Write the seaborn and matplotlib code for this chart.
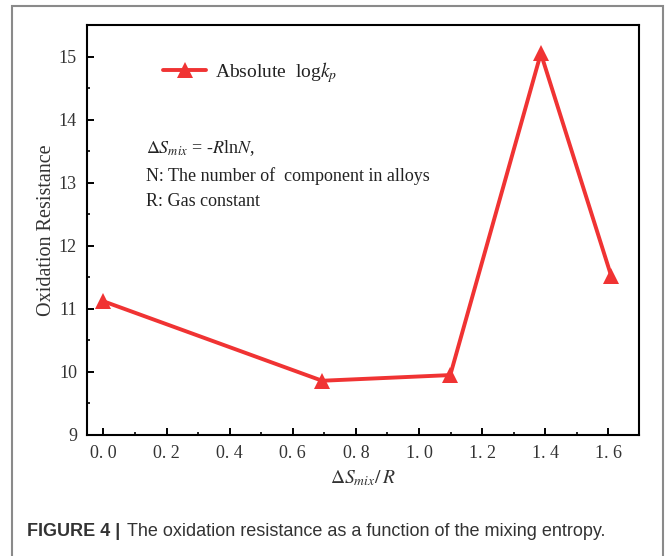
import matplotlib
matplotlib.use("Agg")
import matplotlib.pyplot as plt
import seaborn as sns
import pandas as pd
from matplotlib.patches import Rectangle

# Data
mixing_entropy = [0.0, 0.693, 1.099, 1.386, 1.609]
oxidation_resistance = [11.12, 9.86, 9.95, 15.05, 11.52]
series_label = r'Absolute  log$k_p$'
xtick_values = [0.0, 0.2, 0.4, 0.6, 0.8, 1.0, 1.2, 1.4, 1.6]
xtick_labels = ['0. 0', '0. 2', '0. 4', '0. 6', '0. 8', '1. 0', '1. 2', '1. 4', '1. 6']
ytick_values = [9, 10, 11, 12, 13, 14, 15]
notes = [r'$\Delta S_{mix}$ = -$R$ln$N$,',
         'N: The number of  component in alloys',
         'R: Gas constant']

sns.set_theme(style='ticks')
plt.rcParams['font.family'] = ['Liberation Serif', 'DejaVu Serif']
plt.rcParams['mathtext.fontset'] = 'stix'

W, H = 667, 556
fig = plt.figure(figsize=(W / 100, H / 100), dpi=100)
ax = fig.add_axes([86.7 / W, 1 - 435 / H, (639 - 86.7) / W, (435 - 25) / H])

df = pd.DataFrame({'x': mixing_entropy, 'y': oxidation_resistance})
red = '#F03333'
sns.lineplot(data=df, x='x', y='y', ax=ax, color=red, lw=2.8, marker='^',
             markersize=11, markeredgewidth=0, label=series_label, sort=False)

ax.set_xlim(-0.053, 1.697)
ax.set_ylim(9, 15.5)
ax.set_xticks(xtick_values)
ax.set_xticklabels(xtick_labels)
ax.set_yticks(ytick_values)
ax.set_xticks([0.1, 0.3, 0.5, 0.7, 0.9, 1.1, 1.3, 1.5], minor=True)
ax.set_yticks([9.5, 10.5, 11.5, 12.5, 13.5, 14.5], minor=True)
ax.tick_params(axis='both', which='major', direction='in', length=5, width=1.4,
               labelsize=13, pad=7, colors='black', labelcolor='#333333')
ax.tick_params(axis='both', which='minor', direction='in', length=2.5, width=1.4)
for s in ax.spines.values():
    s.set_linewidth(1.5)
    s.set_color('black')

ax.set_ylabel('Oxidation Resistance', fontsize=14.5, color='#333333', labelpad=2)
ax.set_xlabel(r'$\Delta S_{mix}/\,R$', fontsize=14, color='#333333', labelpad=5)

leg = ax.legend(loc='center left', bbox_to_anchor=(0.107, 0.885), frameon=False,
                fontsize=14, handlelength=2.2, handletextpad=0.45)
for t in leg.get_texts():
    t.set_color('#222222')

ys = [148, 176, 201]
for txt, yy in zip(notes, ys):
    fig.text(146 / W, 1 - yy / H, txt, fontsize=13, color='#222222', va='center', ha='left')

# frame around figure
fig.patches.append(Rectangle((12 / W, -0.1), (663 - 12) / W, 1.1 - 6 / H,
                             transform=fig.transFigure, fill=False,
                             edgecolor='#8a8a8a', lw=1.5))

# caption
fig.text(27 / W, 1 - 532 / H, 'FIGURE 4 |', fontsize=13, fontweight='bold',
         family='Liberation Sans', color='#333333', va='center', ha='left')
fig.text(127 / W, 1 - 532 / H, 'The oxidation resistance as a function of the mixing entropy.',
         fontsize=13, family='Liberation Sans', color='#333333', va='center', ha='left')

fig.savefig('out.png', dpi=100)
